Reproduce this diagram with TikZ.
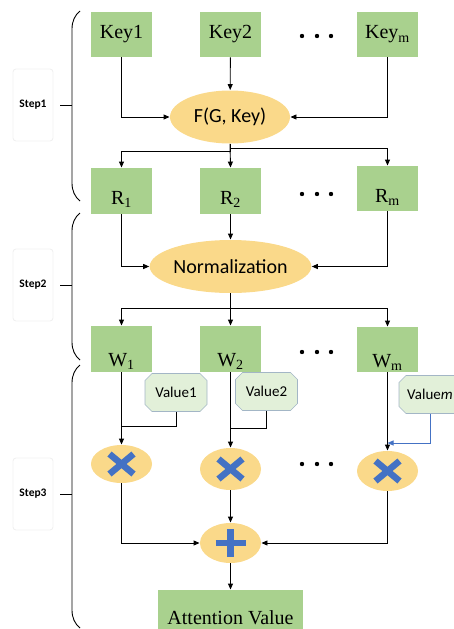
\documentclass[tikz,border=0pt]{standalone}
\usepackage{fontspec}
\setmainfont{Liberation Serif}
\setsansfont{Carlito}
\usetikzlibrary{positioning,shapes.geometric,shapes.misc,arrows.meta}

\definecolor{boxgreen}{HTML}{A9D18E}
\definecolor{opyellow}{HTML}{FAD98A}
\definecolor{valgreen}{HTML}{E2F0D9}
\definecolor{valedge}{HTML}{A3B6C6}
\definecolor{opblue}{HTML}{4472C4}

\begin{document}
\begin{tikzpicture}[x=1pt,y=-1pt,
	box/.style = {rectangle, fill=boxgreen, minimum width=61pt, minimum height=45pt, inner sep=0pt, font=\fontsize{20}{22}\selectfont},
	rbox/.style = {box, minimum height=46pt, text height=27pt, text depth=0pt},
	wbox/.style = {box, minimum height=46pt, text height=35pt, text depth=0pt},
	op/.style = {ellipse, fill=opyellow, inner sep=0pt, font=\sffamily\fontsize{20}{22}\selectfont},
	val/.style = {chamfered rectangle, chamfered rectangle xsep=3.5pt, chamfered rectangle ysep=3.5pt, draw=valedge, line width=0.6pt, fill=valgreen, minimum width=62pt, minimum height=38pt, inner sep=0pt, font=\sffamily\fontsize{15}{17}\selectfont},
	mul/.style = {op, minimum width=61pt, minimum height=40pt, path picture={
		\draw[opblue, line width=6.5pt] ([shift={(-12,-10)}]path picture bounding box.center) -- ++(24,20)
			([shift={(-12,10)}]path picture bounding box.center) -- ++(24,-20);}},
	add/.style = {op, minimum width=61pt, minimum height=40pt, path picture={
		\draw[opblue, line width=6.5pt] ([shift={(-15,0)}]path picture bounding box.center) -- ++(30,0)
			([shift={(0,-14)}]path picture bounding box.center) -- ++(0,28);}},
	steplabel/.style = {draw=black!6, rounded corners=3pt, minimum width=40pt, minimum height=72pt, font=\sffamily\bfseries\fontsize{11.5}{13}\selectfont},
	arr/.style = {-{Triangle[length=6pt,width=5pt]}},
	line width=0.9pt]
	\useasboundingbox (0,0) rectangle (453,629);

	% step 1: keys into F
	\node[box] (k1) at (121.5,34.5) {Key1};
	\node[box] (k2) at (230.5,34.5) {Key2};
	\node[box] (km) at (387.5,34.5) {Key\textsubscript{m}};
	\node[op, minimum width=120pt, minimum height=53pt] (f) at (230,117) {F(G, Key)};

	% step 2: scores and normalization
	\node[rbox] (r1) at (121.5,191) {R\textsubscript{1}};
	\node[rbox] (r2) at (230.5,191) {R\textsubscript{2}};
	\node[rbox, minimum height=45pt] (rm) at (387.5,188.5) {R\textsubscript{m}};
	\node[op, minimum width=145pt, minimum height=53pt] (norm) at (230.5,266.5) {Normalization};

	% step 3: weights times values, then sum
	\node[wbox] (w1) at (121.5,349) {W\textsubscript{1}};
	\node[wbox] (w2) at (230.5,349) {W\textsubscript{2}};
	\node[wbox, minimum height=45pt] (wm) at (387.5,349.5) {W\textsubscript{m}};
	\node[val] (v1) at (176,392.5) {Value1};
	\node[val] (v2) at (266.5,391.5) {Value2};
	\node[val] (vm) at (430,394.5) {Value\textit{m}};
	\node[mul, minimum height=38pt] (m1) at (121.5,464) {};
	\node[mul, minimum height=42pt] (m2) at (230.5,469) {};
	\node[mul] (mm) at (387.5,471) {};
	\node[add] (sum) at (230.5,543) {};
	\node[box, minimum width=145pt, minimum height=55pt] (att) at (230.5,617.5) {Attention Value};

	% dots between columns
	\foreach \y in {36,194,352,464}
		\foreach \x in {302,317,331}
			\fill (\x,\y) circle (2.2pt);

	\coordinate (j1) at (121.5,426);
	\coordinate (j2) at (230.5,428);
	\coordinate (jm) at (387.5,443);

	\draw[arr] (k1.south) |- (f.west);
	\draw[arr] (k2) -- (f);
	\draw[arr] (km.south) |- (f.east);
	\draw[arr] (f.south) -- ++(0,7) -| (r1.north);
	\draw[arr] (f.south) -- (r2.north);
	\draw[arr] (f.south) -- ++(0,4) -| (rm.north);

	\draw[arr] (r1.south) |- (norm.west);
	\draw[arr] (r2) -- (norm);
	\draw[arr] (rm.south) |- (norm.east);
	\draw[arr] (norm.south) -- ++(0,15) -| (w1.north);
	\draw[arr] (norm.south) -- (w2.north);
	\draw[arr] (norm.south) -- ++(0,15) -| (wm.north);

	\draw[arr] (w1) -- (m1);
	\draw[arr] (w2) -- (m2);
	\draw[arr] (wm) -- (mm);
	\draw (v1.south) |- (j1);
	\draw (v2.south) |- (j2);
	\draw[arr, opblue] (vm.south) |- (jm);

	\draw[arr] (m1.south) |- (sum.west);
	\draw[arr] (m2) -- (sum);
	\draw[arr] (mm.south) |- (sum.east);
	\draw[arr] (sum) -- (att);

	% braces with step labels
	\foreach \t/\c/\b/\s in {11/105/201/1, 213/285/360/2, 365/494/628/3}{
		\draw (80,\t) .. controls (75,\t+4) and (72,\t+10) .. (72,\t+18) -- (72,\b-18)
			.. controls (72,\b-10) and (75,\b-4) .. (80,\b);
		\draw (60,\c) -- (72,\c);
		\node[steplabel] (step\s) at (33,\c) {Step\s};
	}
\end{tikzpicture}
\end{document}
